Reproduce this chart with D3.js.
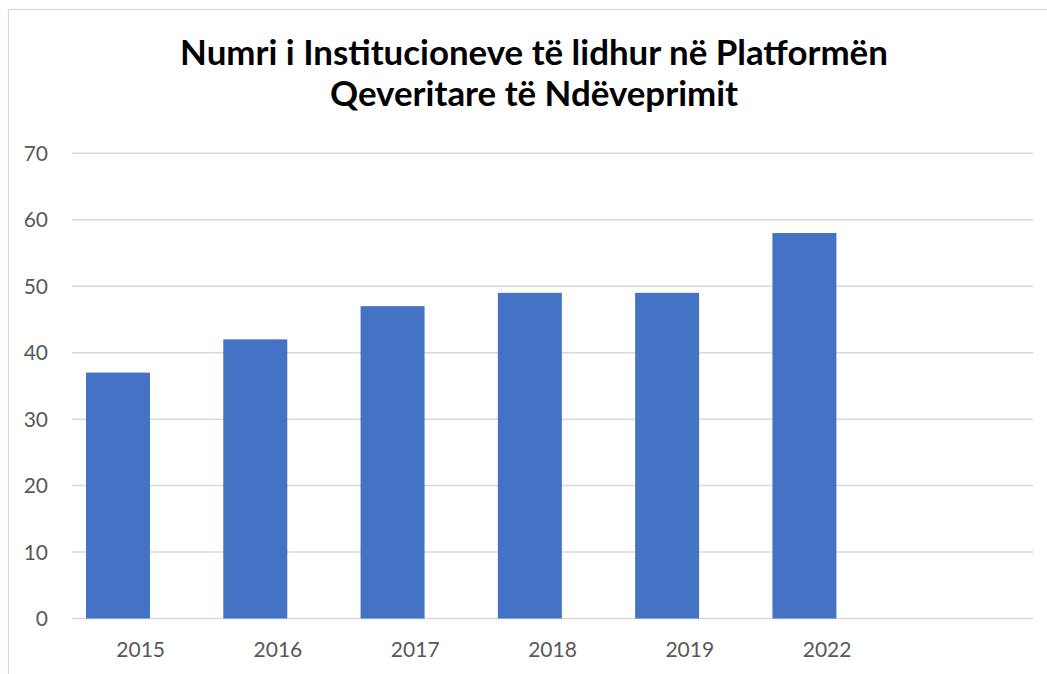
<!DOCTYPE html>
<html>
<head>
<meta charset="utf-8">
<script src="https://cdn.jsdelivr.net/npm/d3@7"></script>
<style>
  html, body { margin: 0; padding: 0; background: #ffffff; }
  svg { display: block; }
</style>
</head>
<body>
<svg id="chart" width="1047" height="674"></svg>
<script>
// ---- data ----
const titleLines = ["Numri i Institucioneve të lidhur në Platformën", "Qeveritare të Ndëveprimit"];
const categories = ["2015", "2016", "2017", "2018", "2019", "2022"];
const values = [37, 42, 47, 49, 49, 58];
const yTicks = [0, 10, 20, 30, 40, 50, 60, 70];

// ---- layout ----
const W = 1047, H = 674;
const plot = { left: 72, right: 1033, top: 153.3, bottom: 618.5 };
const svg = d3.select("#chart");

svg.append("rect").attr("width", W).attr("height", H).attr("fill", "#ffffff");
// chart frame (only top/left edges visible)
svg.append("rect")
  .attr("x", 8.5).attr("y", 9.5).attr("width", 1200).attr("height", 800)
  .attr("fill", "#ffffff").attr("stroke", "#d9d9d9").attr("stroke-width", 1.2);

const x = d3.scaleBand()
  .domain([...categories, " "])   // Excel plot kept one empty slot at the right
  .range([plot.left, plot.right])
  .paddingInner(0).paddingOuter(0);

const y = d3.scaleLinear().domain([0, 70]).range([plot.bottom, plot.top]);

// gridlines
svg.append("g").selectAll("line").data(yTicks).join("line")
  .attr("x1", plot.left).attr("x2", plot.right)
  .attr("y1", d => y(d)).attr("y2", d => y(d))
  .attr("stroke", "#d9d9d9").attr("stroke-width", 1.5);

// y labels
svg.append("g").selectAll("text").data(yTicks).join("text")
  .attr("x", 48).attr("y", d => y(d)).attr("dy", "0.36em")
  .attr("text-anchor", "end")
  .attr("font-family", "Lato, 'Open Sans', sans-serif").attr("font-size", 21)
  .attr("fill", "#595959")
  .text(d => d);

// bars
const bw = x.bandwidth();
svg.append("g").selectAll("rect").data(values).join("rect")
  .attr("x", (d, i) => x(categories[i]) + bw * 0.102)
  .attr("width", bw * 0.466)
  .attr("y", d => y(d))
  .attr("height", d => y(0) - y(d))
  .attr("fill", "#4472c4");

// x labels
svg.append("g").selectAll("text").data(categories).join("text")
  .attr("x", d => x(d) + bw / 2).attr("y", 656.7)
  .attr("text-anchor", "middle")
  .attr("font-family", "Lato, 'Open Sans', sans-serif").attr("font-size", 21)
  .attr("fill", "#595959")
  .text(d => d);

// title
const title = svg.append("g");
const tl = title.selectAll("text").data(titleLines).join("text")
  .attr("x", 534).attr("y", (d, i) => 65 + i * 41)
  .attr("text-anchor", "middle")
  .attr("font-family", "Lato, 'Open Sans', sans-serif")
  .attr("font-weight", "bold").attr("font-size", 31)
  .attr("fill", "#000000")
  .text(d => d);
// fit title font size so first line spans ~708px
const w0 = tl.nodes()[0].getComputedTextLength();
if (w0 > 0) {
  const fs = Math.max(26, Math.min(36, 31 * 708 / w0));
  tl.attr("font-size", fs);
}
</script>
</body>
</html>
